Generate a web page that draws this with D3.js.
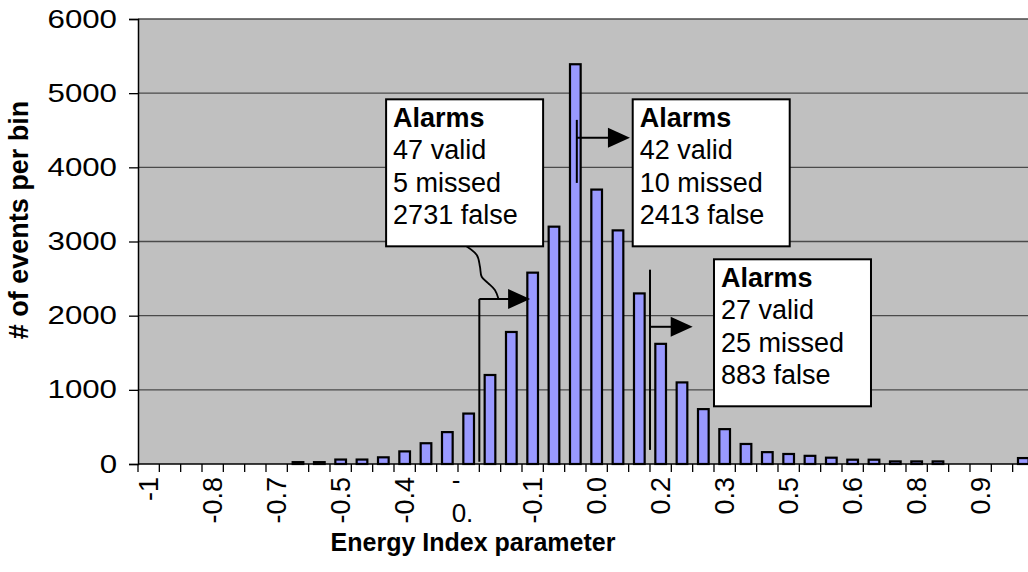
<!DOCTYPE html>
<html>
<head>
<meta charset="utf-8">
<script src="https://cdn.jsdelivr.net/npm/d3@7"></script>
<style>
  html, body { margin: 0; padding: 0; background: #fff; }
  svg { display: block; font-family: "Liberation Sans", Arial, Helvetica, sans-serif; }
</style>
</head>
<body>
<svg id="chart" width="1028" height="572"></svg>
<script>
// Histogram bins of the Energy Index parameter (bin start values)
const bins = ["-1.00","-0.95","-0.90","-0.85","-0.80","-0.75","-0.70","-0.65","-0.60","-0.55",
              "-0.50","-0.45","-0.40","-0.35","-0.30","-0.25","-0.20","-0.15","-0.10","-0.05",
              "0.00","0.05","0.10","0.15","0.20","0.25","0.30","0.35","0.40","0.45",
              "0.50","0.55","0.60","0.65","0.70","0.75","0.80","0.85","0.90","0.95",
              "1.00","1.05"];

// Number of events falling in each bin
const counts = [0, 0, 0, 0, 0, 0, 0, 25, 25, 60,
                60, 90, 170, 280, 430, 680, 1200, 1780, 2580, 3200,
                5390, 3700, 3150, 2300, 1620, 1100, 740, 470, 270, 160,
                135, 110, 85, 58, 58, 35, 35, 35, 0, 0,
                0, 80];

// Category labels shown on the axis (every third bin), as printed
const tickBins   = ["-1.00","-0.85","-0.70","-0.55","-0.40","-0.25","-0.10","0.05","0.20","0.35","0.50","0.65","0.80","0.95"];
const tickLabels = ["-1","-0.8","-0.7","-0.5","-0.4","-\n0.","-0.1","0.0","0.2","0.3","0.5","0.6","0.8","0.9"];

// Value axis ticks
const yTicks = [0, 1000, 2000, 3000, 4000, 5000, 6000];

// Alarm summaries for the three thresholds
const alarmValid  = [47, 42, 27];
const alarmMissed = [5, 10, 25];
const alarmFalse  = [2731, 2413, 883];

// ---- layout ----
const svg = d3.select("#chart");
const plotLeft = 138, plotTop = 19, plotBottom = 464, step = 21.333;
const plotRight = plotLeft + bins.length * step;

const x = d3.scaleBand().domain(bins).range([plotLeft, plotRight])
  .paddingInner(0.5).paddingOuter(0.25);
// continuous position along the category axis (0 = left edge, 1 = one bin)
const xpos = d3.scaleLinear().domain([0, bins.length]).range([plotLeft, plotRight]);
const y = d3.scaleLinear().domain([0, 6000]).range([plotBottom, plotTop]);

// plot background
svg.append("rect")
  .attr("x", plotLeft).attr("y", plotTop)
  .attr("width", plotRight - plotLeft).attr("height", plotBottom - plotTop)
  .attr("fill", "#c0c0c0");

// horizontal gridlines
svg.append("g").selectAll("line").data(yTicks.filter(d => d > 0)).join("line")
  .attr("x1", plotLeft).attr("x2", plotRight)
  .attr("y1", d => y(d)).attr("y2", d => y(d))
  .attr("stroke", "#4a4a4a").attr("stroke-width", 1.3);

// bars
svg.append("g").selectAll("rect").data(bins.map((b, i) => ({ b, v: counts[i] })).filter(d => d.v > 0))
  .join("rect")
  .attr("x", d => x(d.b))
  .attr("width", x.bandwidth())
  .attr("y", d => y(d.v))
  .attr("height", d => y(0) - y(d.v))
  .attr("fill", "#9999ff")
  .attr("stroke", "#000").attr("stroke-width", 2.2);

// y axis (wide-set numerals)
const numStretch = 1.25;
const yAxis = svg.append("g").attr("transform", `translate(${plotLeft},0)`)
  .call(d3.axisLeft(y).tickValues(yTicks).tickSize(9).tickPadding(12).tickFormat(d3.format("d")));
yAxis.select(".domain").attr("stroke", "#000").attr("stroke-width", 1.5);
yAxis.selectAll(".tick line").attr("stroke", "#000").attr("stroke-width", 1.3);
yAxis.selectAll(".tick text")
  .attr("font-size", 25).attr("fill", "#000")
  .attr("font-family", "Liberation Sans, Arial, sans-serif")
  .attr("x", -21 / numStretch)
  .attr("transform", `scale(${numStretch},1)`);

// x axis line and ticks at bin boundaries
svg.append("line").attr("x1", plotLeft).attr("x2", plotRight)
  .attr("y1", plotBottom).attr("y2", plotBottom)
  .attr("stroke", "#000").attr("stroke-width", 1.5);
svg.append("g").selectAll("line").data(d3.range(bins.length + 1)).join("line")
  .attr("x1", d => xpos(d)).attr("x2", d => xpos(d))
  .attr("y1", plotBottom).attr("y2", plotBottom + 8)
  .attr("stroke", "#000").attr("stroke-width", 1.3);

// x tick labels
const tickG = svg.append("g");
tickBins.forEach((b, i) => {
  const cx = x(b) + x.bandwidth() / 2;
  const lab = tickLabels[i];
  if (lab.includes("\n")) {
    // wrapped label drawn flat, one line under the other
    const t = tickG.append("text").attr("font-size", 26).attr("fill", "#000");
    lab.split("\n").forEach((ln, k) => {
      t.append("tspan").attr("x", cx - 17).attr("y", 489 + k * 33).text(ln);
    });
  } else {
    tickG.append("text")
      .attr("transform", `translate(${cx},477) rotate(-90)`)
      .attr("text-anchor", "end")
      .attr("dy", "0.36em")
      .attr("font-size", 27).attr("fill", "#000")
      .text(lab);
  }
});

// axis titles
svg.append("text")
  .attr("x", 473).attr("y", 551)
  .attr("text-anchor", "middle")
  .attr("font-size", 25).attr("font-weight", "bold")
  .text("Energy Index parameter");
svg.append("text")
  .attr("transform", "translate(28,220) rotate(-90)")
  .attr("text-anchor", "middle")
  .attr("font-size", 27).attr("font-weight", "bold")
  .text("# of events per bin");

// ---- alarm thresholds and callouts (positions in bin units / event counts) ----
const thresholds = [
  { pos: 16.0,  top: 2225, bottom: 30,   arrowY: 2225, tip: 18.38 },
  { pos: 20.57, top: 4640, bottom: 3790, arrowY: 4400, tip: 23.06 },
  { pos: 24.0,  top: 2620, bottom: 190,  arrowY: 1850, tip: 26.0 }
];
const boxes = [
  { pos: 11.63, top: 4917 },
  { pos: 23.19, top: 4917 },
  { pos: 27.0,  top: 2760 }
];
const boxW = 157, boxH = 147;

const ann = svg.append("g");
thresholds.forEach(t => {
  const px = xpos(t.pos), ay = y(t.arrowY), tipX = xpos(t.tip);
  ann.append("line").attr("x1", px).attr("x2", px)
    .attr("y1", y(t.top)).attr("y2", y(t.bottom))
    .attr("stroke", "#000").attr("stroke-width", 2);
  ann.append("line").attr("x1", px).attr("x2", tipX - 20)
    .attr("y1", ay).attr("y2", ay)
    .attr("stroke", "#000").attr("stroke-width", 2);
  ann.append("path")
    .attr("d", `M${tipX - 22},${ay - 10}L${tipX},${ay}L${tipX - 22},${ay + 10}Z`)
    .attr("fill", "#000");
});

// connector from the first callout down to its arrow
const squiggle = [[15.17, 2976], [15.88, 2818], [16.03, 2660], [16.11, 2525],
                  [16.41, 2440], [16.73, 2346], [16.89, 2234]];
ann.append("path")
  .attr("d", d3.line().x(d => xpos(d[0])).y(d => y(d[1])).curve(d3.curveCatmullRom)(squiggle))
  .attr("fill", "none").attr("stroke", "#000").attr("stroke-width", 1.8);

boxes.forEach((bx, i) => {
  const bxX = xpos(bx.pos), bxY = y(bx.top);
  ann.append("rect").attr("x", bxX).attr("y", bxY)
    .attr("width", boxW).attr("height", boxH)
    .attr("fill", "#fff").attr("stroke", "#000").attr("stroke-width", 2);
  const lines = ["Alarms", `${alarmValid[i]} valid`, `${alarmMissed[i]} missed`, `${alarmFalse[i]} false`];
  const offs = [27.5, 59.5, 92.5, 124.5];
  lines.forEach((ln, k) => {
    ann.append("text")
      .attr("x", bxX + 7).attr("y", bxY + offs[k])
      .attr("font-size", 27)
      .attr("font-weight", k === 0 ? "bold" : "normal")
      .attr("fill", "#000")
      .text(ln);
  });
});
</script>
</body>
</html>
